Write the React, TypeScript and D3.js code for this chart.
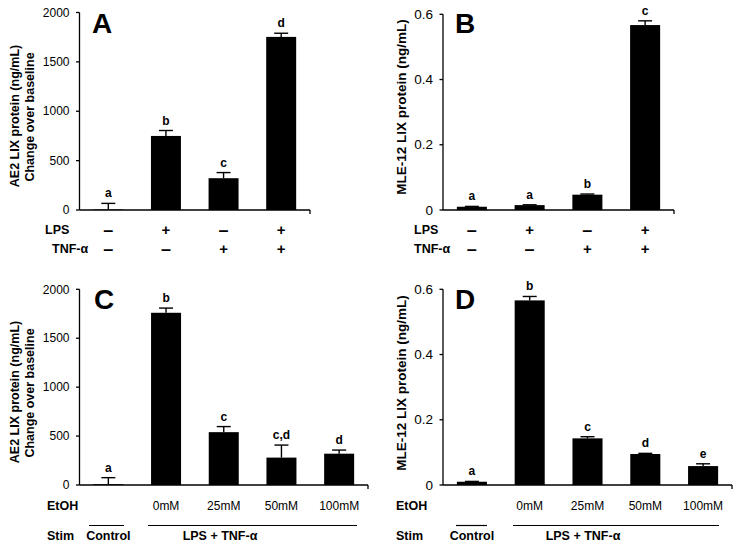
import React from "react";
import * as d3 from "d3";

// ---------- data ----------
const catsA = ["ctrl", "lps", "tnf", "both"];
const valuesA = [5, 750, 322, 1753];
const errorsA = [62, 55, 57, 37];
const lettersA = ["a", "b", "c", "d"];
const lpsRow = ["–", "+", "–", "+"];
const tnfRow = ["–", "–", "+", "+"];

const catsB = ["ctrl", "lps", "tnf", "both"];
const valuesB = [0.010, 0.015, 0.047, 0.567];
const errorsB = [0.001, 0.001, 0.002, 0.013];
const lettersB = ["a", "a", "b", "c"];

const catsC = ["control", "0mM", "25mM", "50mM", "100mM"];
const valuesC = [8, 1760, 540, 280, 320];
const errorsC = [67, 48, 57, 128, 37];
const lettersC = ["a", "b", "c", "c,d", "d"];

const catsD = ["control", "0mM", "25mM", "50mM", "100mM"];
const valuesD = [0.010, 0.566, 0.143, 0.095, 0.058];
const errorsD = [0.001, 0.012, 0.005, 0.002, 0.007];
const lettersD = ["a", "b", "c", "d", "e"];

const etohRow = ["", "0mM", "25mM", "50mM", "100mM"];
const ticksAE2 = [0, 500, 1000, 1500, 2000];
const ticksMLE = [0, 0.2, 0.4, 0.6];

const FONT = "'Liberation Sans', Arial, Helvetica, sans-serif";

type PanelProps = {
  x0: number; x1: number; y0: number; y1: number;
  cats: string[]; values: number[]; errors: number[]; letters: string[];
  ymax: number; ticks: number[]; fmt: (v: number) => string;
  panel: string; panelX: number; panelY: number;
  tickFont: number;
};

function Panel(p: PanelProps) {
  const x = d3.scaleBand<string>().domain(p.cats).range([p.x0, p.x1]).paddingInner(0.48).paddingOuter(0.24);
  const y = d3.scaleLinear().domain([0, p.ymax]).range([p.y0, p.y1]);
  const bw = x.bandwidth();
  const cap = 7;
  return (
    <g>
      {p.cats.map((c, i) => {
        const cx = (x(c) as number) + bw / 2;
        const top = y(p.values[i]);
        const et = y(p.values[i] + p.errors[i]);
        return (
          <g key={c}>
            <rect x={x(c)} y={top} width={bw} height={p.y0 - top} fill="#000" />
            <line x1={cx} x2={cx} y1={top} y2={et} stroke="#000" strokeWidth={1.4} />
            <line x1={cx - cap} x2={cx + cap} y1={et} y2={et} stroke="#000" strokeWidth={1.4} />
            <text x={cx} y={et - 6} textAnchor="middle" fontFamily={FONT} fontWeight="bold" fontSize={12}>{p.letters[i]}</text>
          </g>
        );
      })}
      {/* y axis */}
      <line x1={p.x0} x2={p.x0} y1={p.y0} y2={p.y1} stroke="#000" strokeWidth={1.3} />
      {p.ticks.map((t) => (
        <g key={t}>
          <line x1={p.x0 - 3.5} x2={p.x0} y1={y(t)} y2={y(t)} stroke="#000" strokeWidth={1.3} />
          <text x={p.x0 - 10} y={y(t)} dy="0.35em" textAnchor="end" fontFamily={FONT} fontSize={p.tickFont}>{p.fmt(t)}</text>
        </g>
      ))}
      {/* x axis */}
      <line x1={p.x0} x2={p.x1} y1={p.y0} y2={p.y0} stroke="#000" strokeWidth={1.3} />
      <line x1={p.x1} x2={p.x1} y1={p.y0} y2={p.y0 + 4} stroke="#000" strokeWidth={1.3} />
      <text x={p.panelX} y={p.panelY} fontFamily={FONT} fontWeight="bold" fontSize={28}>{p.panel}</text>
    </g>
  );
}

function bandCenters(cats: string[], x0: number, x1: number) {
  const x = d3.scaleBand<string>().domain(cats).range([x0, x1]).paddingInner(0.48).paddingOuter(0.24);
  return cats.map((c) => (x(c) as number) + x.bandwidth() / 2);
}

export default function App() {
  const fmtInt = (v: number) => d3.format("d")(v);
  const fmtDec = (v: number) => (v === 0 ? "0" : d3.format(".1f")(v));

  const A = { x0: 79.5, x1: 310, y0: 210, y1: 12.5 };
  const B = { x0: 443, x1: 674, y0: 210, y1: 14.3 };
  const C = { x0: 79.5, x1: 368, y0: 485, y1: 289.3 };
  const D = { x0: 443, x1: 732, y0: 485, y1: 289.3 };

  const cA = bandCenters(catsA, A.x0, A.x1);
  const cB = bandCenters(catsB, B.x0, B.x1);
  const cC = bandCenters(catsC, C.x0, C.x1);
  const cD = bandCenters(catsD, D.x0, D.x1);

  const bold = { fontFamily: FONT, fontWeight: "bold" as const };
  const signSize = (s: string) => (s === "+" ? 15 : 18);

  return (
    <div style={{ position: "absolute", left: 0, top: 0 }}>
      <svg width={739} height={552} style={{ display: "block", background: "#fff" }}>
        <rect width={739} height={552} fill="#fff" />
        <Panel {...A} cats={catsA} values={valuesA} errors={errorsA} letters={lettersA} ymax={2000} ticks={ticksAE2} fmt={fmtInt} panel="A" panelX={92} panelY={33} tickFont={12} />
        <Panel {...B} cats={catsB} values={valuesB} errors={errorsB} letters={lettersB} ymax={0.6} ticks={ticksMLE} fmt={fmtDec} panel="B" panelX={455} panelY={33} tickFont={13.5} />
        <Panel {...C} cats={catsC} values={valuesC} errors={errorsC} letters={lettersC} ymax={2000} ticks={ticksAE2} fmt={fmtInt} panel="C" panelX={94} panelY={309} tickFont={12} />
        <Panel {...D} cats={catsD} values={valuesD} errors={errorsD} letters={lettersD} ymax={0.6} ticks={ticksMLE} fmt={fmtDec} panel="D" panelX={455} panelY={309} tickFont={13.5} />

        {/* Y titles */}
        <g transform="translate(15,116) rotate(-90)">
          <text textAnchor="middle" dy="0.35em" {...bold} fontSize={12.5}>AE2 LIX protein (ng/mL)</text>
        </g>
        <g transform="translate(30,117) rotate(-90)">
          <text textAnchor="middle" dy="0.35em" {...bold} fontSize={12.5}>Change over baseline</text>
        </g>
        <g transform="translate(401,107) rotate(-90)">
          <text textAnchor="middle" dy="0.35em" {...bold} fontSize={13.5}>MLE-12 LIX protein (ng/mL)</text>
        </g>
        <g transform="translate(15,392) rotate(-90)">
          <text textAnchor="middle" dy="0.35em" {...bold} fontSize={12.5}>AE2 LIX protein (ng/mL)</text>
        </g>
        <g transform="translate(30,393) rotate(-90)">
          <text textAnchor="middle" dy="0.35em" {...bold} fontSize={12.5}>Change over baseline</text>
        </g>
        <g transform="translate(401,383) rotate(-90)">
          <text textAnchor="middle" dy="0.35em" {...bold} fontSize={13.5}>MLE-12 LIX protein (ng/mL)</text>
        </g>

        {/* A rows */}
        <text x={45} y={230} dy="0.35em" {...bold} fontSize={12.5}>LPS</text>
        <text x={52} y={249} dy="0.35em" {...bold} fontSize={12.5}>TNF-α</text>
        {cA.map((cx, i) => (
          <g key={"a" + i}>
            <text x={cx} y={230} dy="0.35em" textAnchor="middle" {...bold} fontSize={signSize(lpsRow[i])}>{lpsRow[i]}</text>
            <text x={cx} y={249} dy="0.35em" textAnchor="middle" {...bold} fontSize={signSize(tnfRow[i])}>{tnfRow[i]}</text>
          </g>
        ))}
        {/* B rows */}
        <text x={414} y={230} dy="0.35em" {...bold} fontSize={12.5}>LPS</text>
        <text x={414} y={249} dy="0.35em" {...bold} fontSize={12.5}>TNF-α</text>
        {cB.map((cx, i) => (
          <g key={"b" + i}>
            <text x={cx} y={230} dy="0.35em" textAnchor="middle" {...bold} fontSize={signSize(lpsRow[i])}>{lpsRow[i]}</text>
            <text x={cx} y={249} dy="0.35em" textAnchor="middle" {...bold} fontSize={signSize(tnfRow[i])}>{tnfRow[i]}</text>
          </g>
        ))}

        {/* C rows */}
        <text x={47} y={506} dy="0.35em" {...bold} fontSize={12.5}>EtOH</text>
        <text x={47} y={536} dy="0.35em" {...bold} fontSize={12.5}>Stim</text>
        {cC.map((cx, i) => (
          <text key={"c" + i} x={cx} y={506} dy="0.35em" textAnchor="middle" fontFamily={FONT} fontSize={12}>{etohRow[i]}</text>
        ))}
        <line x1={89} x2={124} y1={525.5} y2={525.5} stroke="#000" strokeWidth={1.2} />
        <line x1={148} x2={357} y1={525.5} y2={525.5} stroke="#000" strokeWidth={1.2} />
        <text x={cC[0]} y={536} dy="0.35em" textAnchor="middle" {...bold} fontSize={12.5}>Control</text>
        <text x={220} y={536} dy="0.35em" textAnchor="middle" {...bold} fontSize={12.5}>LPS + TNF-α</text>

        {/* D rows */}
        <text x={396} y={506} dy="0.35em" {...bold} fontSize={12.5}>EtOH</text>
        <text x={396} y={536} dy="0.35em" {...bold} fontSize={12.5}>Stim</text>
        {cD.map((cx, i) => (
          <text key={"d" + i} x={cx} y={506} dy="0.35em" textAnchor="middle" fontFamily={FONT} fontSize={12}>{etohRow[i]}</text>
        ))}
        <line x1={456} x2={487} y1={525.5} y2={525.5} stroke="#000" strokeWidth={1.2} />
        <line x1={513} x2={719} y1={525.5} y2={525.5} stroke="#000" strokeWidth={1.2} />
        <text x={cD[0]} y={536} dy="0.35em" textAnchor="middle" {...bold} fontSize={12.5}>Control</text>
        <text x={583} y={536} dy="0.35em" textAnchor="middle" {...bold} fontSize={12.5}>LPS + TNF-α</text>
      </svg>
    </div>
  );
}
